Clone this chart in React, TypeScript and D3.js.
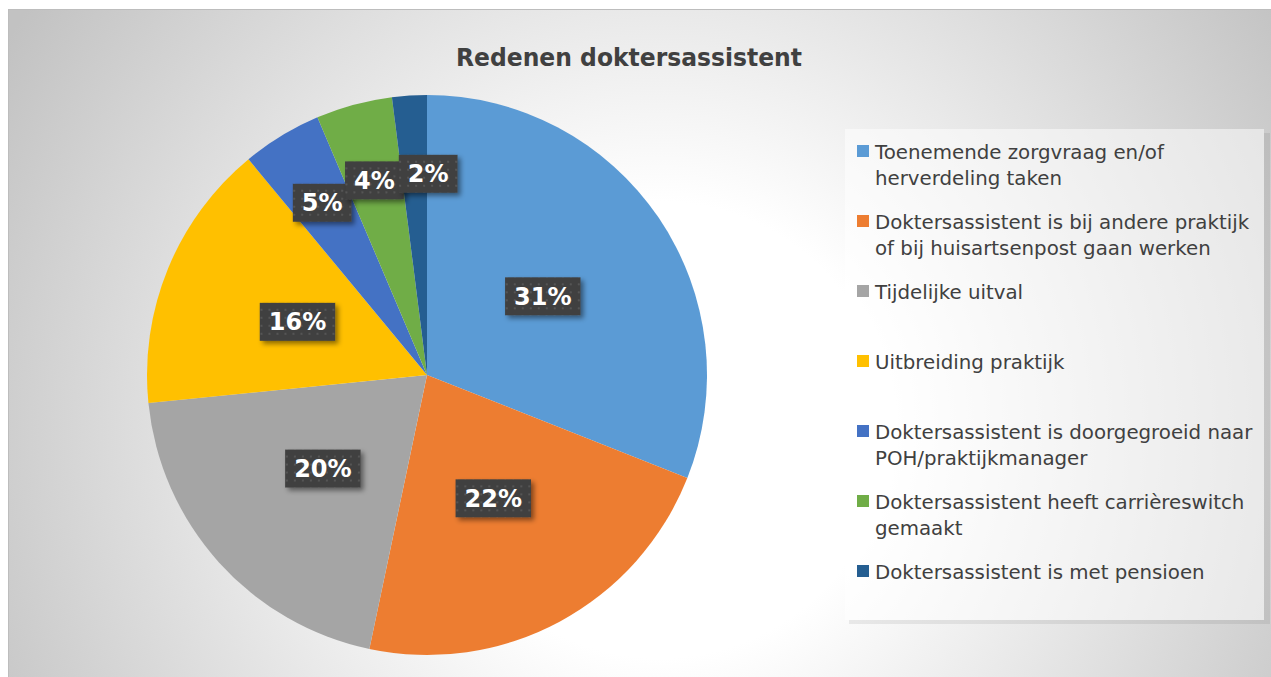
import React from "react";
import * as d3 from "d3";

const title = "Redenen doktersassistent";
const categories = [
  "Toenemende zorgvraag en/of\nherverdeling taken",
  "Doktersassistent is bij andere praktijk\nof bij huisartsenpost gaan werken",
  "Tijdelijke uitval",
  "Uitbreiding praktijk",
  "Doktersassistent is doorgegroeid naar\nPOH/praktijkmanager",
  "Doktersassistent heeft carrièreswitch\ngemaakt",
  "Doktersassistent is met pensioen",
];
const values = [31.0, 22.3, 20.1, 15.6, 4.6, 4.4, 2.0];
const colors = ["#5B9BD5", "#ED7D31", "#A5A5A5", "#FFC000", "#4472C4", "#70AD47", "#255E91"];

const W = 1271;
const H = 677;
const FONT = "'DejaVu Sans', Verdana, sans-serif";

let ctx: CanvasRenderingContext2D | null = null;
function measure(text: string, font: string) {
  if (!ctx) ctx = document.createElement("canvas").getContext("2d");
  if (!ctx) return text.length * 14;
  ctx.font = font;
  return ctx.measureText(text).width;
}

export default function App() {
  const cx = 427;
  const cy = 375;
  const R = 280;
  const pie = d3.pie<number>().sort(null).value((d) => d).startAngle(0).endAngle(2 * Math.PI);
  const arcs = pie(values);
  const arc = d3.arc<d3.PieArcDatum<number>>().innerRadius(0).outerRadius(R);
  const fmt = (v: number) => d3.format(".0%")(v / 100);

  const legendY = d3.scalePoint<string>().domain(categories).range([159, 579]);
  const labelFont = `bold 24px ${FONT}`;
  const bh = 38;

  // compute label boxes, then nudge labels in the same row that overlap too much
  const labels = arcs.map((a) => {
    const lr = a.value < 10 ? R * 0.72 : R * 0.5;
    const [lx, ly] = d3.arc<d3.PieArcDatum<number>>().innerRadius(lr).outerRadius(lr).centroid(a);
    const txt = fmt(a.value);
    const bw = measure(txt, labelFont) + 18;
    return { x: lx, y: ly, txt, bw };
  });
  for (let i = 1; i < labels.length; i++) {
    const p = labels[i - 1];
    const c = labels[i];
    if (Math.abs(p.y - c.y) < 12) {
      const minX = p.x + p.bw / 2 + c.bw / 2 - 5;
      if (c.x < minX) c.x = minX;
    }
  }

  return (
    <svg width={W} height={H} style={{ position: "absolute", left: 0, top: 0, display: "block" }}>
      <defs>
        <radialGradient id="bg" gradientUnits="userSpaceOnUse" cx={660} cy={430} r={760}>
          <stop offset="0" stopColor="#ffffff" />
          <stop offset="0.3" stopColor="#ffffff" />
          <stop offset="1" stopColor="#c2c2c2" />
        </radialGradient>
        <pattern id="dots" width={8} height={8} patternUnits="userSpaceOnUse">
          <rect width={8} height={8} fill="#404040" />
          <rect x={3} y={3} width={2} height={2} fill="#555555" />
        </pattern>
        <filter id="shadow" x="-30%" y="-30%" width="160%" height="170%">
          <feDropShadow dx={3} dy={3} stdDeviation={2.5} floodColor="#000" floodOpacity={0.45} />
        </filter>
      </defs>
      <rect x={8.5} y={9.5} width={W - 8} height={H - 9} fill="url(#bg)" stroke="#bdbdbd" strokeWidth={1} />

      <text
        x={629}
        y={66}
        textAnchor="middle"
        fontFamily={FONT}
        fontWeight="bold"
        fontSize={25}
        fill="#404040"
        textLength={346}
        lengthAdjust="spacingAndGlyphs"
      >
        {title}
      </text>

      <g transform={`translate(${cx},${cy})`}>
        {arcs.map((a, i) => (
          <path key={i} d={arc(a) || ""} fill={colors[i]} />
        ))}
        {labels.map((l, i) => (
          <g key={"l" + i} transform={`translate(${l.x},${l.y})`}>
            <rect x={-l.bw / 2} y={-bh / 2} width={l.bw} height={bh} fill="url(#dots)" filter="url(#shadow)" />
            <text
              x={0}
              y={0}
              dy="0.36em"
              textAnchor="middle"
              fontFamily={FONT}
              fontWeight="bold"
              fontSize={24}
              fill="#ffffff"
            >
              {l.txt}
            </text>
          </g>
        ))}
      </g>

      <g>
        <rect x={1264} y={133} width={6} height={491} fill="#000" opacity={0.07} />
        <rect x={849} y={620} width={415} height={4} fill="#000" opacity={0.07} />
        <rect x={845} y={129} width={419} height={491} fill="#ffffff" opacity={0.5} />
        {categories.map((c, i) => {
          const y = legendY(c) as number;
          const lines = c.split("\n");
          return (
            <g key={"lg" + i}>
              <rect x={857} y={y - 14} width={12} height={12} fill={colors[i]} />
              <text x={875} y={y} fontFamily={FONT} fontSize={19.8} fill="#404040">
                {lines.map((ln, j) => (
                  <tspan key={j} x={875} dy={j === 0 ? 0 : 26}>
                    {ln}
                  </tspan>
                ))}
              </text>
            </g>
          );
        })}
      </g>
    </svg>
  );
}
